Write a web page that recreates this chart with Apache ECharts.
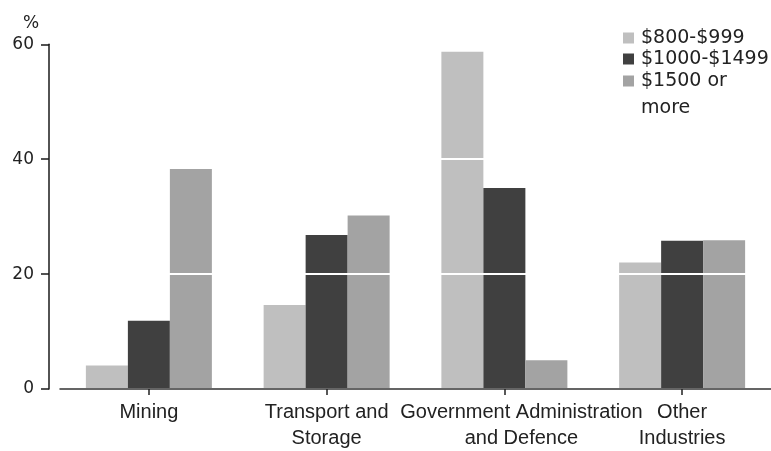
<!DOCTYPE html>
<html>
<head>
<meta charset="utf-8">
<script src="https://cdn.jsdelivr.net/npm/echarts@6/dist/echarts.min.js"></script>
<style>
  html, body { margin: 0; padding: 0; background: #fff; }
  #chart { width: 771px; height: 451px; }
</style>
</head>
<body>
<div id="chart"></div>
<script>
// Share of employees by industry and weekly earnings band (%)
const categories = ['Mining', 'Transport and\nStorage', 'Government Administration\nand Defence', 'Other\nIndustries'];
const seriesNames = ['$800-$999', '$1000-$1499', '$1500 or\nmore'];
const band800to999 = [4.1, 14.6, 58.7, 22.0];
const band1000to1499 = [11.9, 26.8, 35.0, 25.8];
const band1500plus = [38.3, 30.2, 5.0, 25.9];
const yTicks = { min: 0, max: 60, interval: 20 };

const colors = ['#bfbfbf', '#404040', '#a3a3a3'];
const labelFont = 'Liberation Sans, Arial, sans-serif';
const wideFont = 'DejaVu Sans, sans-serif';

const chart = echarts.init(document.getElementById('chart'), null, { renderer: 'canvas' });

const bar = (name, data, color) => ({
  name: name,
  type: 'bar',
  data: data,
  barWidth: 42,
  barGap: '0%',
  itemStyle: { color: color },
  emphasis: { disabled: true },
  z: 2
});

const legendBase = {
  orient: 'vertical',
  left: 623,
  padding: 0,
  itemGap: 0,
  itemWidth: 11,
  itemHeight: 11,
  icon: 'rect'
};

chart.setOption({
  animation: false,
  backgroundColor: '#fff',
  title: {
    text: '%',
    left: 18,
    top: 10,
    textStyle: { fontFamily: wideFont, fontSize: 17, fontWeight: 'normal', color: '#222' }
  },
  legend: [
    Object.assign({}, legendBase, {
      data: [seriesNames[0], seriesNames[1]],
      top: 27.5,
      textStyle: { fontFamily: wideFont, fontSize: 19, color: '#222', lineHeight: 21, padding: [0, 0, 0, 2] }
    }),
    Object.assign({}, legendBase, {
      data: [seriesNames[2]],
      top: 40.5,
      // leading blank line keeps the first text line level with the swatch
      formatter: name => '\n' + name,
      textStyle: { fontFamily: wideFont, fontSize: 19, color: '#222', lineHeight: 27, padding: [0, 0, 0, 2] }
    })
  ],
  grid: { left: 60, right: -9, top: 44.3, bottom: 56.7, containLabel: false },
  xAxis: {
    type: 'category',
    data: categories.map((c, i) => i === 2
      ? { value: c, textStyle: { padding: [0, 0, 0, 34] } }
      : c),
    z: 12,
    axisLine: { show: true, lineStyle: { color: '#333', width: 1.5 } },
    axisTick: { show: true, alignWithLabel: true, length: 6, lineStyle: { color: '#222', width: 1.5 } },
    axisLabel: {
      interval: 0,
      margin: 10,
      fontFamily: labelFont,
      fontSize: 20,
      lineHeight: 26,
      color: '#222'
    },
    splitLine: { show: false }
  },
  yAxis: {
    type: 'value',
    min: yTicks.min,
    max: yTicks.max,
    interval: yTicks.interval,
    offset: 11,
    z: 10,
    axisLine: { show: true, lineStyle: { color: '#1a1a1a', width: 1.5 } },
    axisTick: { show: true, length: 8, lineStyle: { color: '#1a1a1a', width: 1.5 } },
    axisLabel: {
      margin: 15,
      fontFamily: wideFont,
      fontSize: 17,
      color: '#222'
    },
    splitLine: { show: true, lineStyle: { color: '#ffffff', width: 2 } }
  },
  series: [
    bar(seriesNames[0], band800to999, colors[0]),
    bar(seriesNames[1], band1000to1499, colors[1]),
    bar(seriesNames[2], band1500plus, colors[2])
  ]
});
</script>
</body>
</html>
